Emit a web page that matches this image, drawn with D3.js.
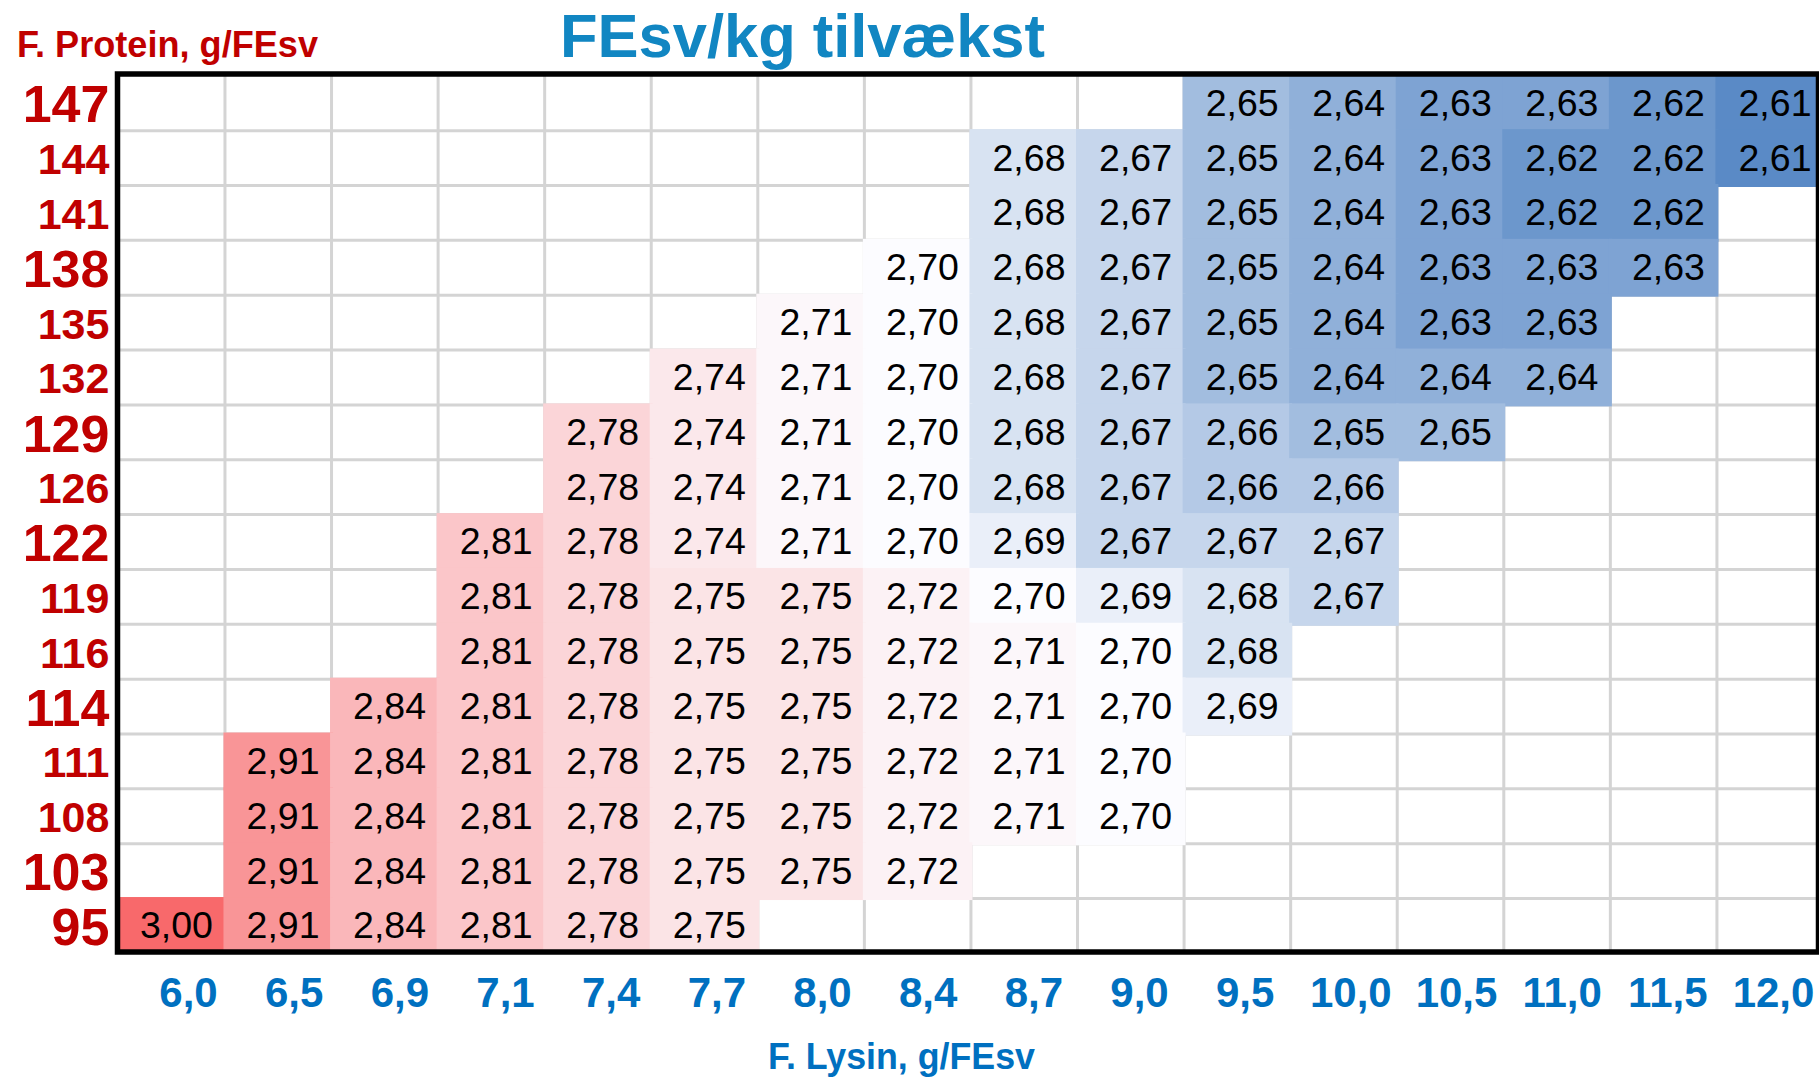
<!DOCTYPE html>
<html>
<head>
<meta charset="utf-8">
<script src="https://cdn.jsdelivr.net/npm/d3@7"></script>
<style>
  html, body { margin: 0; padding: 0; background: #fff; }
  svg { display: block; font-family: "Liberation Sans", Arial, sans-serif; }
</style>
</head>
<body>
<svg id="chart" width="1819" height="1078"></svg>
<script>
// ---- Data ----
const proteinLevels = ["147","144","141","138","135","132","129","126","122","119","116","114","111","108","103","95"];
const lysinLevels = ["6,0","6,5","6,9","7,1","7,4","7,7","8,0","8,4","8,7","9,0","9,5","10,0","10,5","11,0","11,5","12,0"];
const _ = null;
const row147 = [_,_,_,_,_,_,_,_,_,_,2.65,2.64,2.63,2.63,2.62,2.61];
const row144 = [_,_,_,_,_,_,_,_,2.68,2.67,2.65,2.64,2.63,2.62,2.62,2.61];
const row141 = [_,_,_,_,_,_,_,_,2.68,2.67,2.65,2.64,2.63,2.62,2.62,_];
const row138 = [_,_,_,_,_,_,_,2.70,2.68,2.67,2.65,2.64,2.63,2.63,2.63,_];
const row135 = [_,_,_,_,_,_,2.71,2.70,2.68,2.67,2.65,2.64,2.63,2.63,_,_];
const row132 = [_,_,_,_,_,2.74,2.71,2.70,2.68,2.67,2.65,2.64,2.64,2.64,_,_];
const row129 = [_,_,_,_,2.78,2.74,2.71,2.70,2.68,2.67,2.66,2.65,2.65,_,_,_];
const row126 = [_,_,_,_,2.78,2.74,2.71,2.70,2.68,2.67,2.66,2.66,_,_,_,_];
const row122 = [_,_,_,2.81,2.78,2.74,2.71,2.70,2.69,2.67,2.67,2.67,_,_,_,_];
const row119 = [_,_,_,2.81,2.78,2.75,2.75,2.72,2.70,2.69,2.68,2.67,_,_,_,_];
const row116 = [_,_,_,2.81,2.78,2.75,2.75,2.72,2.71,2.70,2.68,_,_,_,_,_];
const row114 = [_,_,2.84,2.81,2.78,2.75,2.75,2.72,2.71,2.70,2.69,_,_,_,_,_];
const row111 = [_,2.91,2.84,2.81,2.78,2.75,2.75,2.72,2.71,2.70,_,_,_,_,_,_];
const row108 = [_,2.91,2.84,2.81,2.78,2.75,2.75,2.72,2.71,2.70,_,_,_,_,_,_];
const row103 = [_,2.91,2.84,2.81,2.78,2.75,2.75,2.72,_,_,_,_,_,_,_,_];
const row95  = [3.00,2.91,2.84,2.81,2.78,2.75,_,_,_,_,_,_,_,_,_,_];
const rows = [row147,row144,row141,row138,row135,row132,row129,row126,row122,row119,row116,row114,row111,row108,row103,row95];

const titleText = "FEsv/kg tilvækst";
const yTitleText = "F. Protein, g/FEsv";
const xTitleText = "F. Lysin, g/FEsv";
// labels shown in the larger type size
const largeYLabels = new Set(["147","138","129","122","114","103","95"]);

// ---- Layout ----
const svg = d3.select("#chart");
const plot = { left: 118.4, top: 75.8, right: 1823.5, bottom: 953.4 };
const frame = { x: 117.5, y: 74, x2: 1818.5, y2: 952 };

const x = d3.scaleBand().domain(lysinLevels).range([plot.left, plot.right]).paddingInner(0).paddingOuter(0);
const y = d3.scaleBand().domain(proteinLevels).range([plot.top, plot.bottom]).paddingInner(0).paddingOuter(0);
const xLabel = d3.scalePoint().domain(lysinLevels).range([188, 1773]);

const cells = [];
rows.forEach((r, i) => r.forEach((v, j) => { if (v !== null) cells.push({ p: proteinLevels[i], l: lysinLevels[j], v }); }));
const vals = cells.map(d => d.v);
const color = d3.scaleLinear()
  .domain([d3.min(vals), d3.median(vals), d3.max(vals)])
  .range(["#5A8AC6", "#FCFCFF", "#F8696B"]);

const fmt = d3.formatLocale({ decimal: ",", thousands: ".", grouping: [3], currency: ["", ""] }).format(".2f");

svg.append("defs").append("clipPath").attr("id", "clip")
  .append("rect").attr("x", frame.x).attr("y", frame.y).attr("width", frame.x2 - frame.x).attr("height", frame.y2 - frame.y);

const g = svg.append("g").attr("clip-path", "url(#clip)");

// gridlines
g.append("g").selectAll("line").data(lysinLevels.slice(1)).join("line")
  .attr("x1", d => x(d)).attr("x2", d => x(d))
  .attr("y1", plot.top).attr("y2", plot.bottom)
  .attr("stroke", "#D4D4D4").attr("stroke-width", 3);
g.append("g").selectAll("line").data(proteinLevels.slice(1)).join("line")
  .attr("y1", d => y(d)).attr("y2", d => y(d))
  .attr("x1", plot.left).attr("x2", plot.right)
  .attr("stroke", "#D4D4D4").attr("stroke-width", 3);

// cells
g.append("g").selectAll("rect").data(cells).join("rect")
  .attr("x", d => x(d.l) - 1.5).attr("y", d => y(d.p) - 1.5)
  .attr("width", x.bandwidth() + 3).attr("height", y.bandwidth() + 3)
  .attr("fill", d => color(d.v));

// values
g.append("g").selectAll("text").data(cells).join("text")
  .attr("x", d => x(d.l) + x.bandwidth() - 12)
  .attr("y", d => y(d.p) + y.bandwidth() - 15)
  .attr("text-anchor", "end")
  .attr("font-size", 37.5)
  .attr("fill", "#000")
  .text(d => fmt(d.v));

// frame
svg.append("rect")
  .attr("x", frame.x).attr("y", frame.y)
  .attr("width", frame.x2 - frame.x).attr("height", frame.y2 - frame.y)
  .attr("fill", "none").attr("stroke", "#000").attr("stroke-width", 5.5);

// y axis labels
const yAxis = svg.append("g").attr("transform", `translate(${plot.left},0)`)
  .call(d3.axisLeft(y).tickSize(0).tickPadding(9));
yAxis.select(".domain").remove();
yAxis.selectAll("text")
  .attr("font-family", "'Liberation Sans', Arial, sans-serif")
  .attr("font-weight", "bold")
  .attr("fill", "#C00000")
  .attr("font-size", d => largeYLabels.has(d) ? 52 : 43)
  .attr("dy", "0.37em");

// x axis labels
const xAxis = svg.append("g").attr("transform", `translate(0,${frame.y2})`)
  .call(d3.axisBottom(xLabel).tickSize(0).tickPadding(0));
xAxis.select(".domain").remove();
xAxis.selectAll("text")
  .attr("font-family", "'Liberation Sans', Arial, sans-serif")
  .attr("font-weight", "bold")
  .attr("fill", "#0070C0")
  .attr("font-size", 42)
  .attr("y", 55).attr("dy", 0);

// titles
svg.append("text")
  .attr("x", 560).attr("y", 57)
  .attr("font-size", 61).attr("font-weight", "bold").attr("fill", "#1186C2")
  .attr("textLength", 485).attr("lengthAdjust", "spacingAndGlyphs")
  .text(titleText);
svg.append("text")
  .attr("x", 17).attr("y", 57)
  .attr("font-size", 37).attr("font-weight", "bold").attr("fill", "#C00000")
  .attr("textLength", 301).attr("lengthAdjust", "spacingAndGlyphs")
  .text(yTitleText);
svg.append("text")
  .attr("x", 768).attr("y", 1069)
  .attr("font-size", 37).attr("font-weight", "bold").attr("fill", "#0070C0")
  .attr("textLength", 267).attr("lengthAdjust", "spacingAndGlyphs")
  .text(xTitleText);
</script>
</body>
</html>
